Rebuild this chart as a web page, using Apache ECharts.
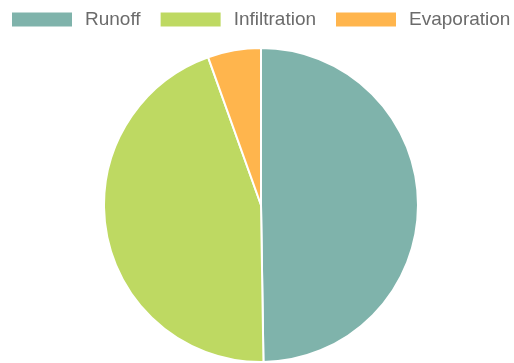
<!DOCTYPE html>
<html>
<head>
<meta charset="utf-8">
<script src="https://cdn.jsdelivr.net/npm/echarts@6/dist/echarts.min.js"></script>
<style>
  html, body { margin: 0; padding: 0; background: #fff; }
  #chart { width: 514px; height: 363px; }
</style>
</head>
<body>
<div id="chart"></div>
<script>
// Water balance shares
const categories = ['Runoff', 'Infiltration', 'Evaporation'];
const values = [50, 45, 5.5];
const colors = ['#7fb3ab', '#bed962', '#ffb54d'];

const chart = echarts.init(document.getElementById('chart'));
chart.setOption({
  animation: false,
  color: colors,
  legend: {
    data: categories,
    icon: 'rect',
    top: 10,
    left: 10,
    padding: 0,
    itemWidth: 62,
    itemHeight: 16,
    itemGap: 18,
    textStyle: {
      fontSize: 19,
      color: '#6b6b6b',
      fontFamily: 'Arial, "Liberation Sans", sans-serif',
      padding: [0, 0, 0, 7]
    }
  },
  series: [{
    type: 'pie',
    center: [261, 205],
    radius: 157,
    startAngle: 90,
    clockwise: true,
    label: { show: false },
    labelLine: { show: false },
    itemStyle: { borderColor: '#fff', borderWidth: 2 },
    data: categories.map((name, i) => ({ name, value: values[i] }))
  }]
});
</script>
</body>
</html>
